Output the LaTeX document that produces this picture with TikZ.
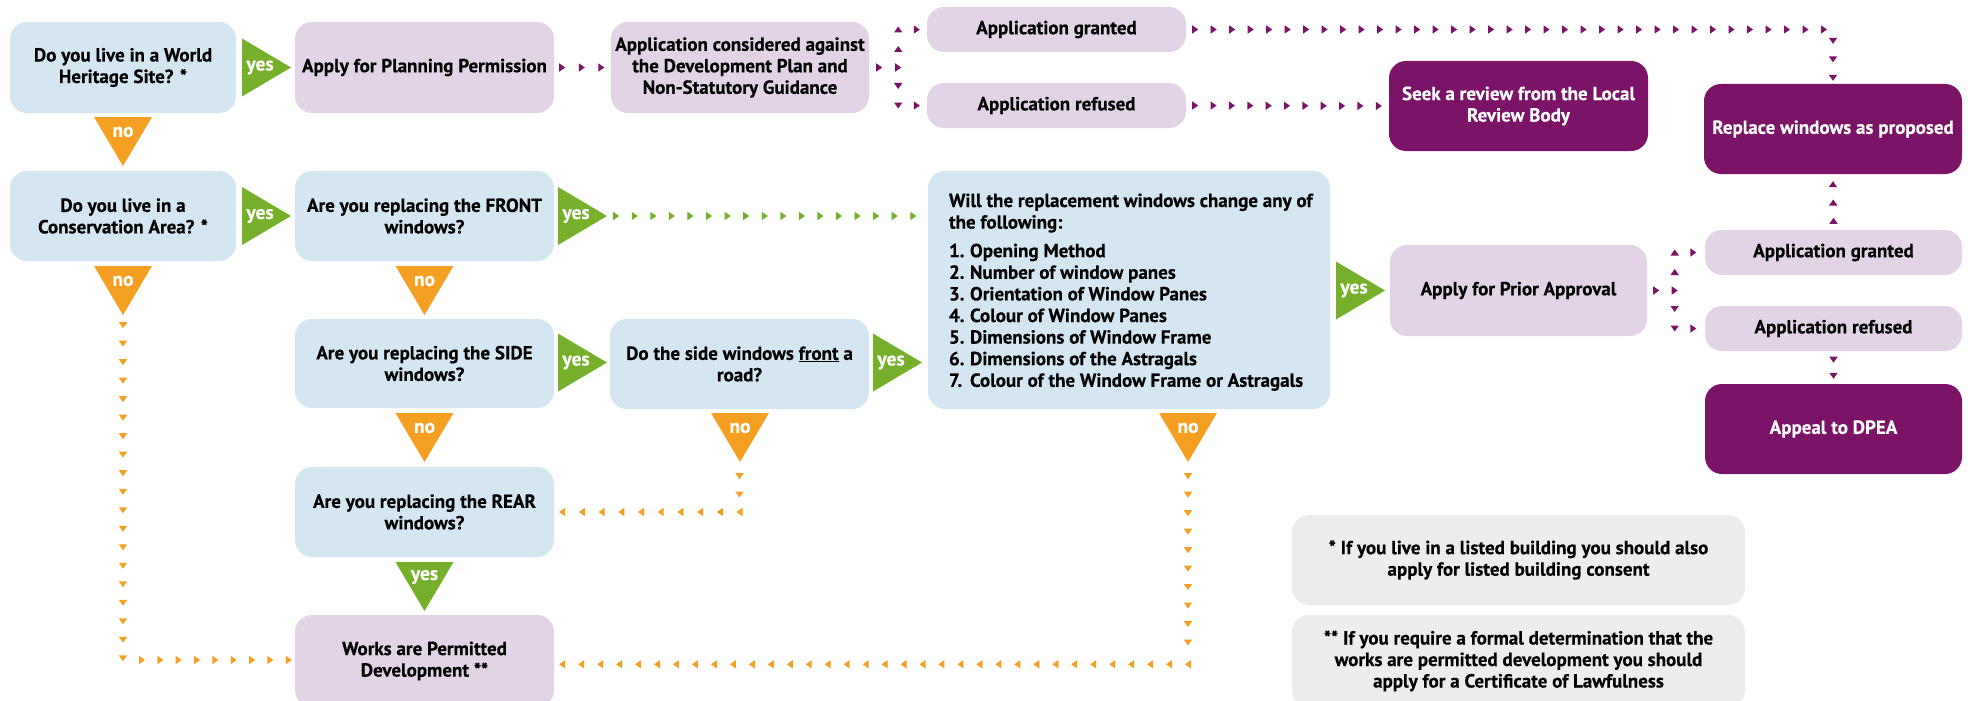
\documentclass[tikz,border=0pt]{standalone}
\usepackage{fontspec}
\setmainfont{PT Sans}[BoldFeatures={FakeBold=0.3}]
\usetikzlibrary{calc}
\definecolor{lblue}{RGB}{211,230,242}
\definecolor{lpurp}{RGB}{226,212,230}
\definecolor{dpurp}{RGB}{123,20,103}
\definecolor{cgreen}{RGB}{118,176,42}
\definecolor{corange}{RGB}{245,160,35}
\definecolor{cgrey}{RGB}{237,237,237}
\tikzset{
  box/.style={rounded corners=17pt, inner sep=0pt, align=center, text=black,
    font=\bfseries\fontsize{19}{21.5}\selectfont},
  qbox/.style={box, fill=lblue},
  abox/.style={box, fill=lpurp},
  dbox/.style={box, fill=dpurp, text=white},
  nbox/.style={box, fill=cgrey},
  lbl/.style={text=white, inner sep=0pt, font=\bfseries\fontsize{19.5}{21}\selectfont},
}
\newcommand\yesright[3]{%
  \fill[cgreen] (#2,#3-29) -- (#2+49,#3) -- (#2,#3+29) -- cycle;
  \node[lbl] (#1) at (#2+18,#3) {yes};}
\newcommand\downtri[5]{%
  \fill[#2] (#3-29,#4) -- (#3+29,#4) -- (#3,#4+49) -- cycle;
  \node[lbl] (#1) at (#3,#4+15) {#5};}
\newcommand\tri[3]{\fill[#1, shift={(#2)}, rotate=#3] (-3,-4.2) -- (3,0) -- (-3,4.2) -- cycle;}
\newcommand\trirow[5]{%
  \foreach \k in {1,...,#4}{%
    \pgfmathsetmacro\dotfrac{(\k-1)/(#4-1)}%
    \fill[#1, shift={($(#2)!\dotfrac!(#3)$)}, rotate=#5] (-3,-4.2) -- (3,0) -- (-3,4.2) -- cycle;}}
\begin{document}
\begin{tikzpicture}[x=1pt, y=-1pt]
\useasboundingbox (0,0) rectangle (1968,701);
\fill[white] (0,0) rectangle (1968,701);
% boxes
\node[qbox, minimum width=226pt, minimum height=91pt] (A) at (123,67.5) {Do you live in a World\\Heritage Site? *};
\node[abox, minimum width=259pt, minimum height=91pt] (B) at (424.5,67.5) {Apply for Planning Permission};
\node[abox, minimum width=258pt, minimum height=91pt] (C) at (740,67.5) {Application considered against\\the Development Plan and\\Non-Statutory Guidance};
\node[abox, minimum width=259pt, minimum height=45pt] (G1) at (1056.5,29.5) {Application granted};
\node[abox, minimum width=259pt, minimum height=45pt] (R1) at (1056.5,105.5) {Application refused};
\node[dbox, minimum width=259pt, minimum height=90pt] (SR) at (1518.5,106) {Seek a review from the Local\\Review Body};
\node[dbox, minimum width=258pt, minimum height=90pt] (RW) at (1833,129) {Replace windows as proposed};
\node[qbox, minimum width=226pt, minimum height=90pt] (CA) at (123,216) {Do you live in a\\Conservation Area? *};
\node[qbox, minimum width=259pt, minimum height=90pt] (FR) at (424.5,216) {Are you replacing the FRONT\\windows?};
\node[qbox, minimum width=259pt, minimum height=89pt] (SI) at (424.5,363.5) {Are you replacing the SIDE\\windows?};
\node[qbox, minimum width=259pt, minimum height=90pt] (SF) at (739.5,364) {Do the side windows \underline{front} a\\road?};
\node[qbox, minimum width=402pt, minimum height=238pt] (WB) at (1129,290) {};
\node[anchor=north west, inner sep=0pt, align=left, font=\bfseries\fontsize{19}{21.6}\selectfont] (WBt) at ($(WB.north west)+(21,22.5)$)
  {Will the replacement windows change any of\\the following:\\[7pt]
   \makebox[21pt][l]{1.}Opening Method\\
   \makebox[21pt][l]{2.}Number of window panes\\
   \makebox[21pt][l]{3.}Orientation of Window Panes\\
   \makebox[21pt][l]{4.}Colour of Window Panes\\
   \makebox[21pt][l]{5.}Dimensions of Window Frame\\
   \makebox[21pt][l]{6.}Dimensions of the Astragals\\
   \makebox[21pt][l]{7.}Colour of the Window Frame or Astragals};
\node[abox, minimum width=257pt, minimum height=91pt] (PA) at (1518.5,290.5) {Apply for Prior Approval};
\node[abox, minimum width=257pt, minimum height=45pt] (G2) at (1833.5,252.5) {Application granted};
\node[abox, minimum width=257pt, minimum height=45pt] (R2) at (1833.5,328.5) {Application refused};
\node[dbox, minimum width=257pt, minimum height=90pt] (AD) at (1833.5,429) {Appeal to DPEA};
\node[qbox, minimum width=259pt, minimum height=90pt] (RE) at (424.5,512) {Are you replacing the REAR\\windows?};
\node[abox, minimum width=259pt, minimum height=92pt] (WP) at (424.5,661) {Works are Permitted\\Development **};
\node[nbox, minimum width=453pt, minimum height=90pt] (F1) at (1518.5,560) {* If you live in a listed building you should also\\apply for listed building consent};
\node[nbox, minimum width=453pt, minimum height=92pt] (F2) at (1518.5,661) {** If you require a formal determination that the\\works are permitted development you should\\apply for a Certificate of Lawfulness};
% yes / no markers
\yesright{yA}{242}{67.5}
\yesright{yCA}{242}{216}
\yesright{yFR}{558}{216}
\yesright{ySI}{558}{362.5}
\yesright{ySF}{873}{362.5}
\yesright{yWB}{1336}{290.5}
\downtri{nA}{corange}{123}{117}{no}
\downtri{nCA}{corange}{123}{266}{no}
\downtri{nFR}{corange}{424.5}{266}{no}
\downtri{nSI}{corange}{424.5}{413}{no}
\downtri{nSF}{corange}{740}{413}{no}
\downtri{nWB}{corange}{1188}{413}{no}
\downtri{yRE}{cgreen}{424.5}{562}{yes}
% connector coordinates
\coordinate (k1) at ($(C.east)+(29,0)$);
\coordinate (k2) at ($(PA.east)+(27.5,0)$);
\coordinate (wbno) at ($(WB.south)+(59,0)$);
% purple connectors
\trirow{dpurp}{$(B.east)+(8,0)$}{$(C.west)+(-9.5,0)$}{3}{0}
\trirow{dpurp}{$(C.east)+(10,0)$}{k1}{2}{0}
\trirow{dpurp}{$(k1)+(0,-18.5)$}{$(k1 |- G1.west)$}{2}{90}
\tri{dpurp}{$(G1.west)+(-10,0)$}{0}
\trirow{dpurp}{$(k1)+(0,18.5)$}{$(k1 |- R1.west)$}{2}{-90}
\tri{dpurp}{$(R1.west)+(-10,0)$}{0}
\trirow{dpurp}{$(G1.east)+(9,0)$}{$(RW.north |- G1.east)+(-9,0)$}{35}{0}
\trirow{dpurp}{$(RW.north)+(0,-43)$}{$(RW.north)+(0,-6)$}{3}{-90}
\trirow{dpurp}{$(R1.east)+(9,0)$}{$(SR.west)+(-10,0)$}{11}{0}
\trirow{dpurp}{$(PA.east)+(9,0)$}{k2}{2}{0}
\trirow{dpurp}{$(k2)+(0,-18.5)$}{$(k2 |- G2.west)$}{2}{90}
\tri{dpurp}{$(G2.west)+(-11.5,0)$}{0}
\trirow{dpurp}{$(k2)+(0,18.5)$}{$(k2 |- R2.west)$}{2}{-90}
\tri{dpurp}{$(R2.west)+(-11.5,0)$}{0}
\trirow{dpurp}{$(G2.north)+(0,-9)$}{$(RW.south)+(0,10)$}{3}{90}
\trirow{dpurp}{$(R2.south)+(0,8.5)$}{$(AD.north)+(0,-8)$}{2}{-90}
% green connector
\trirow{cgreen}{$(FR.east)+(62,0)$}{$(WB.west |- FR.east)+(-14.5,0)$}{17}{0}
% orange connectors
\trirow{corange}{$(CA.south)+(0,64)$}{$(CA.south |- WP.west)+(0,-2.7)$}{19}{-90}
\trirow{corange}{$(CA.south |- WP.west)+(19,-1)$}{$(WP.west)+(-6,-1)$}{9}{0}
\trirow{corange}{$(SF.south)+(0,67)$}{$(SF.south)+(0,85.3)$}{2}{-90}
\trirow{corange}{$(SF.south |- RE.east)$}{$(RE.east)+(8,0)$}{10}{180}
\trirow{corange}{$(wbno)+(0,67)$}{$(wbno)+(0,233.3)$}{10}{-90}
\trirow{corange}{$(wbno |- WP.east)+(0,3.3)$}{$(WP.east)+(8,3.3)$}{34}{180}
\end{tikzpicture}
\end{document}
